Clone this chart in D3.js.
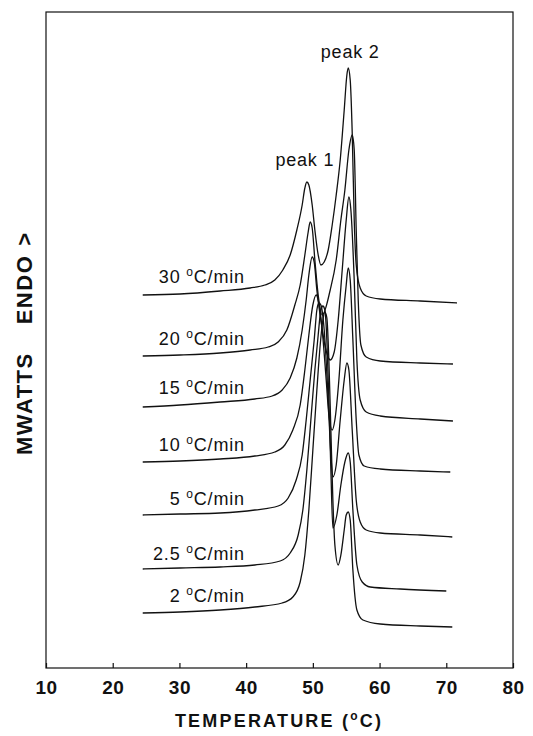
<!DOCTYPE html>
<html>
<head>
<meta charset="utf-8">
<script src="https://cdn.jsdelivr.net/npm/d3@7"></script>
<style>
  body { margin: 0; background: #fff; }
  svg { display: block; font-family: "Liberation Sans", Arial, sans-serif; }
</style>
</head>
<body>
<svg id="chart" width="533" height="736"></svg>
<script>

// DSC traces: [temperature (°C), heat flow (arbitrary mW, offset per trace)]
const rate30 = [[24.5,37.3],[30.1,37.4],[36.1,37.7],[40.6,38.0],[42.8,38.3],[44.3,38.8],[45.5,39.8],[46.6,41.3],[47.6,43.8],[48.4,46.3],[48.8,48.0],[49.1,48.6],[49.4,48.3],[49.9,46.3],[50.3,43.8],[50.8,41.3],[51.2,40.3],[51.7,40.6],[52.3,41.8],[52.9,44.3],[53.5,47.3],[54.1,50.8],[54.7,55.8],[55.1,59.3],[55.3,60.0],[55.6,58.8],[55.9,53.5],[56.2,44.8],[56.5,40.3],[57.1,38.0],[58.0,37.2],[60.1,36.9],[66.1,36.7],[71.6,36.5]];
const rate20 = [[24.5,31.2],[30.1,31.3],[36.1,31.5],[40.6,31.8],[43.3,32.1],[44.8,32.6],[46.1,33.8],[47.3,36.3],[48.1,38.3],[48.8,41.3],[49.3,43.6],[49.6,44.6],[49.9,44.0],[50.3,40.8],[50.8,37.3],[51.4,35.3],[52.6,37.8],[53.5,40.8],[54.2,44.8],[54.8,47.8],[55.4,51.8],[55.9,53.3],[56.2,51.8],[56.5,43.8],[56.8,36.8],[57.2,32.3],[58.0,31.1],[60.1,30.7],[66.1,30.5],[71.0,30.4]];
const rate15 = [[24.5,26.1],[30.1,26.3],[36.1,26.6],[41.3,26.9],[43.9,27.2],[45.4,27.8],[46.6,29.0],[47.6,31.0],[48.4,33.8],[49.0,36.8],[49.4,39.3],[49.9,41.1],[50.2,40.6],[50.6,37.8],[51.2,34.8],[51.8,32.3],[52.6,30.8],[53.2,31.6],[53.8,34.8],[54.4,39.8],[55.0,44.8],[55.4,47.1],[55.7,45.8],[56.2,38.8],[56.6,30.8],[57.1,26.8],[58.0,25.6],[60.1,25.2],[66.1,24.9],[71.0,24.7]];
const rate10 = [[24.5,20.6],[30.1,20.7],[36.1,20.9],[41.3,21.2],[44.3,21.6],[45.8,22.3],[47.0,23.8],[48.1,26.3],[48.8,29.8],[49.4,33.3],[50.0,36.3],[50.5,37.3],[50.8,36.8],[51.4,33.8],[52.0,28.8],[52.4,25.3],[52.9,23.8],[53.3,24.8],[53.9,28.8],[54.5,34.8],[55.0,38.3],[55.3,40.0],[55.6,38.8],[56.0,32.8],[56.5,24.8],[56.9,21.3],[57.7,20.2],[60.1,19.9],[66.1,19.7],[70.6,19.6]];
const rate5 = [[24.5,15.3],[30.1,15.4],[36.1,15.5],[41.3,15.8],[44.8,16.2],[46.3,17.0],[47.5,18.8],[48.4,21.3],[49.0,24.8],[49.6,28.8],[50.2,32.8],[50.6,35.8],[50.9,36.5],[51.2,36.3],[51.7,33.8],[52.3,26.8],[52.7,21.3],[53.0,19.1],[53.5,20.3],[54.1,24.8],[54.7,28.8],[55.1,30.5],[55.4,29.8],[55.9,23.8],[56.5,16.8],[57.1,14.6],[58.0,13.8],[60.1,13.5],[66.1,13.3],[70.9,13.1]];
const rate2_5 = [[24.5,9.9],[30.1,10.0],[36.1,10.1],[41.3,10.3],[45.1,10.7],[46.6,11.5],[47.8,13.3],[48.5,15.8],[49.1,19.8],[49.7,24.8],[50.3,29.8],[50.8,33.3],[51.2,35.8],[51.5,36.2],[51.8,35.8],[52.1,32.8],[52.4,26.8],[52.7,19.8],[53.0,14.0],[53.6,15.3],[54.2,18.3],[54.8,20.6],[55.3,21.5],[55.6,20.6],[56.0,15.8],[56.6,10.3],[57.4,8.6],[58.6,8.1],[63.1,7.9],[70.0,7.7]];
const rate2 = [[24.5,5.5],[30.1,5.6],[36.1,5.8],[41.3,6.1],[45.4,6.5],[47.0,7.1],[48.1,8.6],[48.8,11.3],[49.4,15.8],[50.0,21.8],[50.6,27.8],[51.1,32.3],[51.5,34.8],[51.8,35.6],[52.1,35.0],[52.4,30.8],[52.7,23.8],[53.0,16.8],[53.3,12.3],[53.8,10.3],[54.2,11.3],[54.7,13.8],[55.0,15.3],[55.3,15.6],[55.6,14.8],[56.0,9.8],[56.6,5.8],[57.5,4.8],[60.1,4.4],[66.1,4.2],[70.9,4.1]];

const rateLabels = ["30", "20", "15", "10", "5", "2.5", "2"];
const xTicks = [10, 20, 30, 40, 50, 60, 70, 80];

const series = [rate30, rate20, rate15, rate10, rate5, rate2_5, rate2];

const width = 533, height = 736;
const margin = {top: 12, right: 20, bottom: 68, left: 46};
const innerWidth = width - margin.left - margin.right;
const innerHeight = height - margin.top - margin.bottom;

const svg = d3.select("#chart");
const g = svg.append("g")
    .attr("transform", `translate(${margin.left},${margin.top})`);

const x = d3.scaleLinear().domain([10, 80]).range([0, innerWidth]);
const y = d3.scaleLinear().domain([0, 65.6]).range([innerHeight, 0]);

// frame
g.append("rect")
    .attr("width", innerWidth)
    .attr("height", innerHeight)
    .attr("fill", "none")
    .attr("stroke", "#111")
    .attr("stroke-width", 1.2);

// x axis, ticks pointing inward
const xAxis = g.append("g")
    .attr("transform", `translate(0,${innerHeight})`)
    .call(d3.axisBottom(x).tickValues(xTicks).tickSize(-5).tickSizeOuter(0).tickPadding(13));

xAxis.select(".domain").remove();
xAxis.selectAll("line").attr("stroke", "#111").attr("stroke-width", 1.2);
xAxis.selectAll("text")
    .attr("fill", "#111")
    .attr("font-size", "19px")
    .attr("font-weight", "bold")
    .attr("font-family", "'Liberation Sans', Arial, sans-serif")
    .attr("letter-spacing", "0.5px");

// axis titles
const xTitle = svg.append("text")
    .attr("x", 279)
    .attr("y", 727)
    .attr("text-anchor", "middle")
    .attr("font-size", "18px")
    .attr("font-weight", "bold")
    .attr("letter-spacing", "2.2px")
    .attr("fill", "#111");
xTitle.append("tspan").text("TEMPERATURE (");
xTitle.append("tspan").attr("font-size", "12px").attr("dy", -7).text("o");
xTitle.append("tspan").attr("dy", 7).text("C)");

const yTitle = svg.append("text")
    .attr("transform", "translate(32,455) rotate(-90)")
    .attr("font-size", "22px")
    .attr("font-weight", "bold")
    .attr("letter-spacing", "1.5px")
    .attr("fill", "#111");
yTitle.append("tspan").text("MWATTS");
yTitle.append("tspan").attr("dx", 28).text("ENDO");
yTitle.append("tspan").attr("dx", 9).text(">");

// traces
const line = d3.line()
    .x(d => x(d[0]))
    .y(d => y(d[1]))
    .curve(d3.curveMonotoneX);

g.selectAll(".trace")
    .data(series)
    .join("path")
    .attr("class", "trace")
    .attr("d", line)
    .attr("fill", "none")
    .attr("stroke", "#111")
    .attr("stroke-width", 1.3);

// value of a trace at temperature t
const valueAt = (s, t) => {
    const i = d3.bisector(d => d[0]).left(s, t);
    const a = s[Math.max(i - 1, 0)], b = s[i];
    return a[1] + (b[1] - a[1]) * (t - a[0]) / (b[0] - a[0]);
};

// rate labels above each baseline
const labelT = 39.8;
series.forEach((s, i) => {
    const t = g.append("text")
        .attr("x", x(labelT))
        .attr("y", y(valueAt(s, labelT)) - 6)
        .attr("text-anchor", "end")
        .attr("font-size", "18px")
        .attr("letter-spacing", "0.8px")
        .attr("fill", "#111");
    t.append("tspan").text(rateLabels[i] + " ");
    t.append("tspan").attr("font-size", "12px").attr("dy", -7).text("o");
    t.append("tspan").attr("dy", 7).text("C/min");
});

// peak labels
const peakNotes = [
    {text: "peak 1", t: 48.8, v: 50.2},
    {text: "peak 2", t: 55.6, v: 61.0}
];
g.selectAll(".peak")
    .data(peakNotes)
    .join("text")
    .attr("class", "peak")
    .attr("x", d => x(d.t))
    .attr("y", d => y(d.v))
    .attr("text-anchor", "middle")
    .attr("font-size", "18px")
    .attr("letter-spacing", "0.8px")
    .attr("fill", "#111")
    .text(d => d.text);

</script>
</body>
</html>
